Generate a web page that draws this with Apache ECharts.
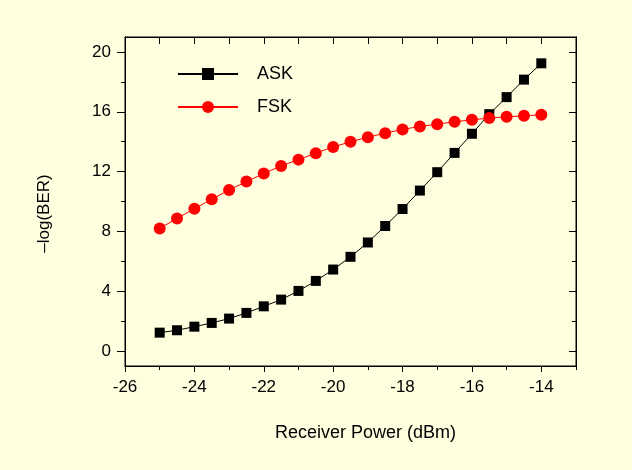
<!DOCTYPE html>
<html>
<head>
<meta charset="utf-8">
<script src="https://cdn.jsdelivr.net/npm/echarts@6/dist/echarts.min.js"></script>
<style>
html,body{margin:0;padding:0;background:#FFFFE0;}
#chart{width:632px;height:470px;}
</style>
</head>
<body>
<div id="chart"></div>
<script>
// Data
const receiverPower = [-25, -24.5, -24, -23.5, -23, -22.5, -22, -21.5, -21, -20.5, -20, -19.5, -19, -18.5, -18, -17.5, -17, -16.5, -16, -15.5, -15, -14.5, -14];
const askValues = [1.23, 1.39, 1.63, 1.88, 2.17, 2.55, 2.99, 3.44, 4.02, 4.69, 5.45, 6.30, 7.26, 8.36, 9.50, 10.73, 11.96, 13.25, 14.53, 15.84, 16.98, 18.15, 19.24];
const fskValues = [8.20, 8.87, 9.52, 10.15, 10.77, 11.33, 11.87, 12.38, 12.80, 13.23, 13.65, 13.99, 14.30, 14.57, 14.82, 15.02, 15.17, 15.33, 15.46, 15.58, 15.66, 15.73, 15.80];
const xMajorTicks = [-26, -24, -22, -20, -18, -16, -14];
const xMinorTicks = [-25, -23, -21, -19, -17, -15, -13];
const xTopTicks = [-26, -25, -24, -23, -22, -21, -20, -19, -18, -17, -16, -15, -14, -13];
const yMajorTicks = [0, 4, 8, 12, 16, 20];
const yMinorTicks = [2, 6, 10, 14, 18];
const seriesNames = ['ASK', 'FSK'];

const FONT = '"Liberation Sans", Arial, sans-serif';
const X_MIN = -26, X_MAX = -13, Y_MIN = -1, Y_MAX = 21;

function pairs(xs, ys) { return xs.map((x, i) => [x, ys[i]]); }

function axisLine() { return { show: true, onZero: false, lineStyle: { color: '#000', width: 1 } }; }

function xAxis(pos, ticks, len, inside, labels, extra) {
  return Object.assign({
    type: 'value', position: pos, min: X_MIN, max: X_MAX,
    axisLine: axisLine(),
    axisTick: { show: true, customValues: ticks, length: len, inside: inside, lineStyle: { color: '#000', width: 1 } },
    axisLabel: labels ? { show: true, customValues: labels, fontFamily: FONT, fontSize: 17, color: '#000', margin: 13 } : { show: false },
    splitLine: { show: false }
  }, extra || {});
}
function yAxis(pos, ticks, len, inside, labels, extra) {
  return Object.assign({
    type: 'value', position: pos, min: Y_MIN, max: Y_MAX,
    axisLine: axisLine(),
    axisTick: { show: true, customValues: ticks, length: len, inside: inside, lineStyle: { color: '#000', width: 1 } },
    axisLabel: labels ? { show: true, customValues: labels, fontFamily: FONT, fontSize: 17, color: '#000', margin: 14 } : { show: false },
    splitLine: { show: false }
  }, extra || {});
}

const chart = echarts.init(document.getElementById('chart'), null, { renderer: 'canvas' });
chart.setOption({
  backgroundColor: '#FFFFE0',
  animation: false,
  grid: { left: 125, right: 56, top: 37, bottom: 104, containLabel: false, show: true, borderColor: '#000', borderWidth: 1, backgroundColor: 'transparent' },
  legend: {
    data: seriesNames,
    orient: 'vertical',
    left: 177, top: 65, padding: 0,
    itemWidth: 60, itemHeight: 15, itemGap: 15,
    textStyle: { fontFamily: FONT, fontSize: 18, color: '#000', padding: [0, 0, 0, 14] }
  },
  xAxis: [
    xAxis('bottom', xMajorTicks, 6, false, xMajorTicks, {
      name: 'Receiver Power (dBm)', nameLocation: 'middle', nameGap: 58,
      nameTextStyle: { fontFamily: FONT, fontSize: 18, color: '#000', padding: [0, 0, 0, 30] }
    }),
    xAxis('bottom', xMinorTicks, 4, false, null),
    xAxis('top', xTopTicks, 7, true, null)
  ],
  yAxis: [
    yAxis('left', yMajorTicks, 8, false, yMajorTicks, {
      name: '\u2013log(BER)', nameLocation: 'middle', nameGap: 72, nameRotate: 90,
      nameTextStyle: { fontFamily: FONT, fontSize: 17, color: '#000', padding: [0, 24, 0, 0] }
    }),
    yAxis('left', yMinorTicks, 4, false, null),
    yAxis('right', yMajorTicks, 7, true, null),
    yAxis('right', yMinorTicks, 4, true, null)
  ],
  series: [
    {
      name: seriesNames[0], type: 'line', xAxisIndex: 0, yAxisIndex: 0,
      data: pairs(receiverPower, askValues),
      symbol: 'rect', symbolSize: 10,
      itemStyle: { color: '#000' },
      lineStyle: { color: '#000', width: 1 },
      z: 2
    },
    {
      name: seriesNames[1], type: 'line', xAxisIndex: 0, yAxisIndex: 0,
      data: pairs(receiverPower, fskValues),
      symbol: 'circle', symbolSize: 12,
      itemStyle: { color: '#FF0000' },
      lineStyle: { color: '#FF0000', width: 1 },
      z: 3
    }
  ]
});
</script>
</body>
</html>
